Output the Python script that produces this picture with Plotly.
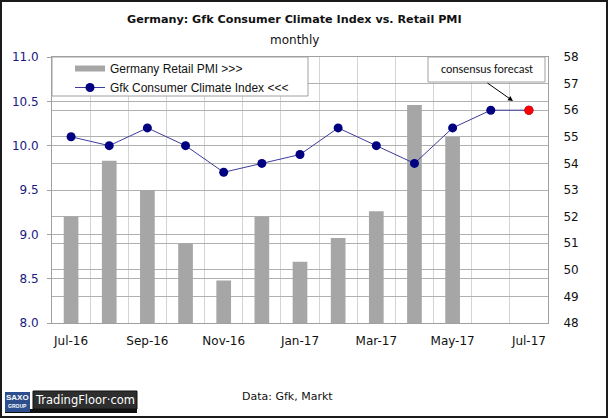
import plotly.graph_objects as go

months = ["Jul-16", "Aug-16", "Sep-16", "Oct-16", "Nov-16", "Dec-16", "Jan-17",
          "Feb-17", "Mar-17", "Apr-17", "May-17", "Jun-17", "Jul-17"]
retail_pmi = [52.0, 54.1, 53.0, 51.0, 49.6, 52.0, 50.3, 51.2, 52.2, 56.2, 55.0, None, None]
gfk = [10.1, 10.0, 10.2, 10.0, 9.7, 9.8, 9.9, 10.2, 10.0, 9.8, 10.2, 10.4, 10.4]
forecast_month = ["Jul-17"]
forecast_value = [10.4]
tick_labels = [m if i % 2 == 0 else "" for i, m in enumerate(months)]

W, H = 608, 418
L, R, T, B = 52, 548, 57, 323


def px(x):
    return (x - L) / (R - L)


def py(y):
    return (B - y) / (B - T)


NAVY = "#000080"
BAR = "#a6a6a6"
GRID_H = "#b0b0b0"
GRID_V = "#d4d4d4"
AXIS = "#a0a0a0"
TAHOMA = "DejaVu Sans"
ARIAL = "Liberation Sans"

fig = go.Figure()
fig.add_trace(go.Bar(
    x=months, y=retail_pmi, name="Germany Retail PMI >>>", showlegend=False,
    marker=dict(color=BAR, line=dict(width=0)), width=0.385,
    yaxis="y",
))
# legend swatch for the bars (wide flat rectangle, as in the reference)
fig.add_trace(go.Scatter(
    x=[None], y=[None], name="Germany Retail PMI >>>", mode="lines",
    line=dict(color=BAR, width=6), yaxis="y",
))
fig.add_trace(go.Scatter(
    x=months, y=gfk, name="Gfk Consumer Climate Index <<<",
    mode="lines+markers", line=dict(color="#3c3c9a", width=1),
    marker=dict(color=NAVY, size=9), yaxis="y2",
))
fig.add_trace(go.Scatter(
    x=forecast_month, y=forecast_value, mode="markers", showlegend=False,
    marker=dict(color="#ff0000", size=9), yaxis="y2",
))

shapes = [
    # legend box
    dict(type="rect", xref="paper", yref="paper", x0=px(52), x1=px(308), y0=py(96), y1=py(57),
         fillcolor="white", line=dict(color=AXIS, width=1), layer="above"),
    # forecast box
    dict(type="rect", xref="paper", yref="paper", x0=px(428), x1=px(545), y0=py(82), y1=py(57),
         fillcolor="white", line=dict(color=AXIS, width=1), layer="above"),
    # logo
    dict(type="rect", xref="paper", yref="paper", x0=px(5), x1=px(137), y0=py(413), y1=py(409),
         fillcolor="#111111", line=dict(width=0), layer="above"),
    dict(type="rect", xref="paper", yref="paper", x0=px(5), x1=px(30), y0=py(412), y1=py(392),
         fillcolor="#2d4e8c", line=dict(width=0), layer="above"),
    dict(type="rect", xref="paper", yref="paper", x0=px(33), x1=px(137), y0=py(409), y1=py(391),
         fillcolor="#2e2e2e", line=dict(color="#111111", width=1), layer="above"),
    # outer frame
    dict(type="rect", xref="paper", yref="paper", x0=px(1), x1=px(607), y0=py(417), y1=py(1),
         fillcolor="rgba(0,0,0,0)", line=dict(color="#1a1a1a", width=2), layer="above"),
]


def note(text, x, y, size, family=TAHOMA, color="#111111"):
    return dict(text=text, xref="paper", yref="paper", x=px(x), y=py(y), showarrow=False,
                xanchor="center", yanchor="middle", font=dict(family=family, size=size, color=color))


annotations = [
    note("<b>Germany: Gfk Consumer Climate Index vs. Retail PMI</b>", 294, 20, 11.2),
    note("monthly", 294, 40, 12),
    note("consensus forecast", 486.5, 69.5, 12, family="Carlito, Liberation Sans"),
    dict(text="", xref="paper", yref="paper", x=px(513), y=py(101), ax=-27, ay=-19,
         showarrow=True, arrowhead=2, arrowsize=1, arrowwidth=1, arrowcolor="#000000"),
    note("Data: Gfk, Markt", 287, 396, 11),
    note("<b>SAXO</b>", 17.5, 397, 8, family=ARIAL, color="white"),
    note("<b>GROUP</b>", 17.5, 406, 5, family=ARIAL, color="white"),
    note("TradingFloor·com", 85, 400, 11.5, color="white"),
]

fig.update_layout(
    width=W, height=H,
    margin=dict(l=L, r=W - R, t=T, b=H - B, pad=0),
    paper_bgcolor="white", plot_bgcolor="white",
    bargap=0.6,
    showlegend=True,
    legend=dict(x=px(70), y=py(54), xanchor="left", yanchor="top",
                bgcolor="rgba(0,0,0,0)", borderwidth=0,
                font=dict(family=ARIAL, size=12, color="#111111"),
                tracegroupgap=0, itemwidth=30),
    xaxis=dict(type="category", categoryorder="array", categoryarray=months,
               tickmode="array", tickvals=months, ticktext=tick_labels, tickangle=0,
               tickson="boundaries", ticks="", showgrid=True, gridcolor=GRID_V, gridwidth=1,
               showline=True, linecolor=AXIS, linewidth=1, mirror=True,
               tickfont=dict(family=TAHOMA, size=12, color="#111111"),
               ticklabelstandoff=7, range=[-0.5, 12.5]),
    yaxis=dict(side="right", range=[48, 58], dtick=1, tick0=48,
               showgrid=True, gridcolor=GRID_H, gridwidth=1, zeroline=False,
               showline=True, linecolor=AXIS, linewidth=1, ticks="",
               tickfont=dict(family=TAHOMA, size=12, color="#111111"),
               ticklabelstandoff=12),
    yaxis2=dict(side="left", overlaying="y", range=[8, 11], dtick=0.5, tick0=8, tickformat=".1f",
                showgrid=True, gridcolor=GRID_H, gridwidth=1, zeroline=False,
                showline=True, linecolor=AXIS, linewidth=1, ticks="outside", ticklen=4,
                tickcolor=AXIS, tickfont=dict(family=TAHOMA, size=12, color="#1a1a80"),
                ticklabelstandoff=6),
    shapes=shapes,
    annotations=annotations,
)

fig.write_html("out.html", config={"displayModeBar": False},
               post_script="document.body.style.margin='0';document.body.style.padding='0';")
